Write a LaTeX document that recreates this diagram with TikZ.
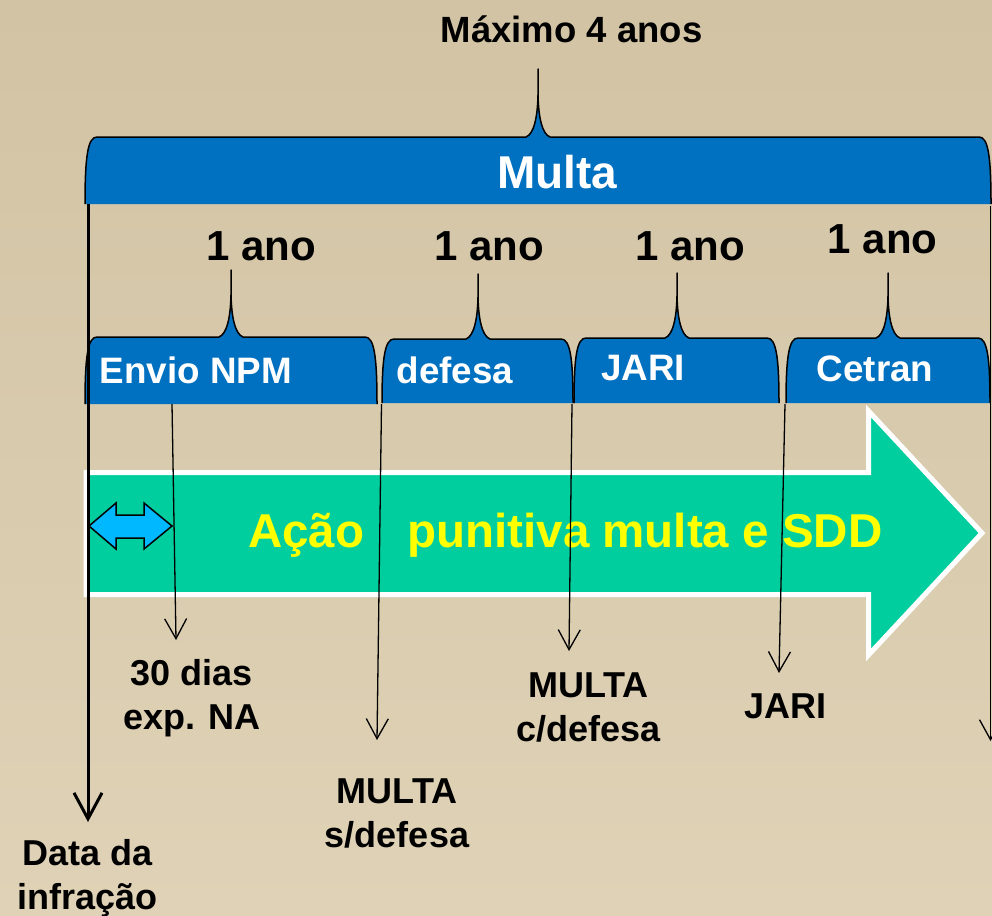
\documentclass[tikz,border=0pt]{standalone}
\usepackage{fontspec}
\setmainfont{Liberation Sans}
\usetikzlibrary{arrows.meta}
\definecolor{bgtop}{RGB}{210,195,164}
\definecolor{bgbot}{RGB}{223,210,182}
\definecolor{braceblue}{RGB}{0,112,192}
\definecolor{arrowgreen}{RGB}{0,206,158}
\definecolor{dblcyan}{RGB}{0,184,255}
\definecolor{txtyellow}{RGB}{255,255,0}
% x1, x2, xpeak, ytop, ybottom, ytip
\newcommand{\bracebox}[6]{%
  \fill[braceblue] (#1,#5) .. controls (#1,#4+18) and (#1+3,#4) .. (#1+12,#4)
    -- (#3-12,#4) .. controls (#3-4,#4-3) and (#3-0.5,#4-20) .. (#3,#4-42)
    -- (#3,#4-42) .. controls (#3+0.5,#4-20) and (#3+4,#4-3) .. (#3+12,#4)
    -- (#2-12,#4) .. controls (#2-3,#4) and (#2,#4+18) .. (#2,#5) -- cycle;
  \draw[braceline] (#1,#5) .. controls (#1,#4+18) and (#1+3,#4) .. (#1+12,#4)
    -- (#3-12,#4) .. controls (#3-4,#4-3) and (#3-0.5,#4-20) .. (#3,#4-42)
    -- (#3,#6) -- (#3,#4-42) .. controls (#3+0.5,#4-20) and (#3+4,#4-3) .. (#3+12,#4)
    -- (#2-12,#4) .. controls (#2-3,#4) and (#2,#4+18) .. (#2,#5);
}
\tikzset{
  braceline/.style={line width=1.5pt, black, line join=round},
  bigarrow/.style={fill=arrowgreen, draw=white, line width=5pt, line join=miter},
  dblarrow/.style={fill=dblcyan, draw=black, line width=1.5pt, line join=miter},
  thinarrow/.style={line width=1.3pt, black, -{Straight Barb[length=20pt,width=22pt,line width=1.3pt]}},
  thickarrow/.style={line width=3pt, black, -{Straight Barb[length=26pt,width=28pt,line width=3pt]}},
  bracelbl/.style={inner sep=0pt, anchor=base, text=white, font=\fontsize{36.8}{44}\selectfont\bfseries},
  yearlbl/.style={inner sep=0pt, anchor=base, text=black, font=\fontsize{42}{50}\selectfont\bfseries},
  botlbl/.style={inner sep=0pt, anchor=base, text=black, font=\fontsize{36}{44}\selectfont\bfseries},
}
\begin{document}
\begin{tikzpicture}[x=1pt,y=-1pt]
\useasboundingbox (0,0) rectangle (992,915);
\shade[top color=bgtop,bottom color=bgbot] (0,0) rectangle (992,915);

% big green arrow
\draw[bigarrow] (86,472.5) -- (868.5,472.5) -- (868.5,411) -- (982,533)
  -- (868.5,655) -- (868.5,594.5) -- (86,594.5) -- cycle;

% double arrow
\draw[dblarrow] (89,526) -- (116,503) -- (116,515) -- (144,515) -- (144,503)
  -- (172,526) -- (144,549) -- (144,538) -- (116,538) -- (116,549) -- cycle;

% braces
\bracebox{85}{991}{538}{137}{204}{69}
\bracebox{85}{377}{231}{337}{404}{270}
\bracebox{382}{573}{478}{339}{403}{274}
\bracebox{574}{779}{677}{338}{403}{273}
\bracebox{786}{990}{888}{338}{403}{273}

% texts
\node[inner sep=0pt, anchor=base, font=\fontsize{36.5}{42}\selectfont\bfseries] (max) at (571.5,43) {Máximo 4 anos};
\node[inner sep=0pt, anchor=base, text=white, font=\fontsize{46}{54}\selectfont\bfseries] (multa) at (557.5,188) {Multa};
\node[yearlbl] (y1) at (261,260) {1 ano};
\node[yearlbl] (y2) at (489,260) {1 ano};
\node[yearlbl] (y3) at (690,260) {1 ano};
\node[yearlbl] (y4) at (882.5,253) {1 ano};
\node[bracelbl] (envio) at (196,383) {Envio NPM};
\node[bracelbl] (defesa) at (455,383) {defesa};
\node[bracelbl] (jari) at (643,380) {JARI};
\node[bracelbl] (cetran) at (875,381) {Cetran};
\node[inner sep=0pt, anchor=base west, text=txtyellow, font=\fontsize{47.5}{56}\selectfont\bfseries] (acao) at (248,547) {Ação\hspace{43pt}punitiva multa e SDD};

\node[botlbl] (dias) at (192,685) {\begin{tabular}[t]{@{}c@{}}30 dias\\exp. NA\end{tabular}};
\node[botlbl] (data) at (87.5,865) {\begin{tabular}[t]{@{}c@{}}Data da\\infração\end{tabular}};
\node[botlbl] (msem) at (397,803) {\begin{tabular}[t]{@{}c@{}}MULTA\\s/defesa\end{tabular}};
\node[botlbl] (mcom) at (588.5,697) {\begin{tabular}[t]{@{}c@{}}MULTA\\c/defesa\end{tabular}};
\node[botlbl] (jari2) at (785,718) {JARI};

% connector coordinates
\coordinate (sData) at (88,204);
\coordinate (tData) at (88,822);
\coordinate (sEnvio) at (172,404);
\coordinate (tEnvio) at (176,640);
\coordinate (sDef) at (381.5,404);
\coordinate (tDef) at (377,740);
\coordinate (sJari) at (572,404);
\coordinate (tJari) at (569,651);
\coordinate (sCet) at (785,404);
\coordinate (tCet) at (779,673);
\coordinate (sEnd) at (990.5,206);
\coordinate (tEnd) at (990.5,741);

\draw[thickarrow] (sData) -- (tData);
\draw[thinarrow] (sEnvio) -- (tEnvio);
\draw[thinarrow] (sDef) -- (tDef);
\draw[thinarrow] (sJari) -- (tJari);
\draw[thinarrow] (sCet) -- (tCet);
\draw[thinarrow, line width=1.8pt] (sEnd) -- (tEnd);
\end{tikzpicture}
\end{document}
